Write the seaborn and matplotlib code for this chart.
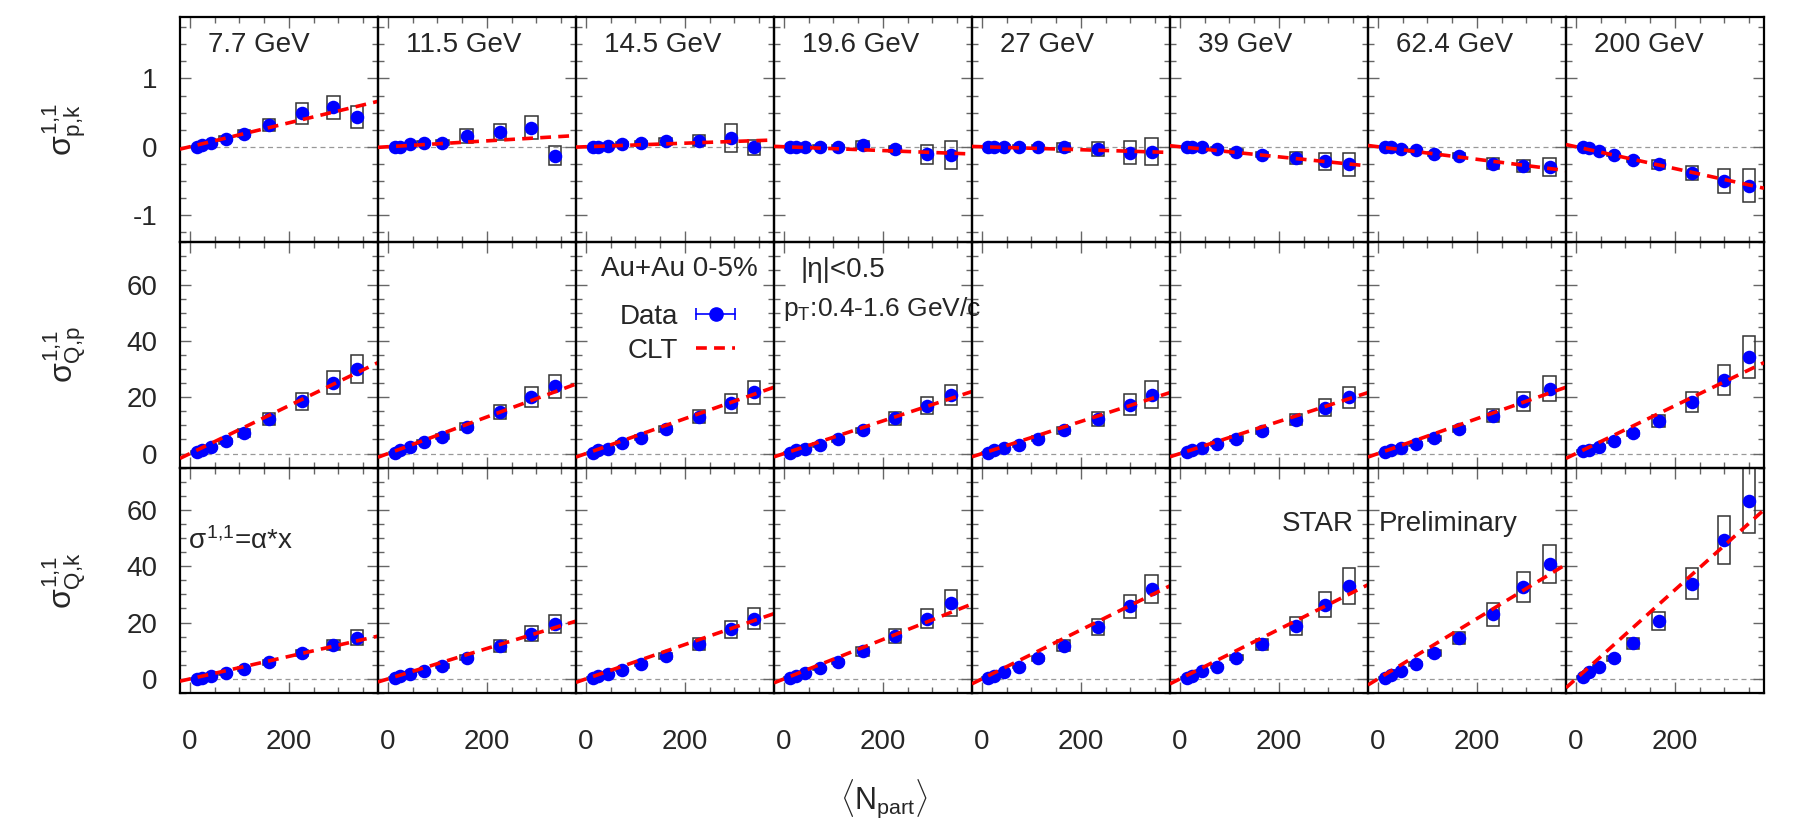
import numpy as np
import matplotlib
matplotlib.use('Agg')
import matplotlib.pyplot as plt
from matplotlib.ticker import MultipleLocator
from matplotlib.lines import Line2D
from matplotlib.legend_handler import HandlerLine2D, HandlerTuple
import seaborn as sns

# beam energies (columns)
energies = ['7.7 GeV', '11.5 GeV', '14.5 GeV', '19.6 GeV',
            '27 GeV', '39 GeV', '62.4 GeV', '200 GeV']

# <Npart> of the 9 centrality bins (70-80% ... 0-5%), per energy
npart = [
    [14, 24, 42, 72, 109, 160, 226, 290, 337],
    [14, 25, 44, 72, 110, 159, 226, 290, 338],
    [14, 25, 44, 73, 111, 161, 229, 293, 340],
    [13, 24, 43, 72, 109, 159, 225, 289, 338],
    [13, 25, 45, 75, 113, 165, 234, 299, 343],
    [14, 25, 45, 75, 114, 166, 234, 293, 342],
    [15, 26, 46, 76, 114, 164, 233, 294, 347],
    [14, 27, 47, 76, 115, 167, 234, 299, 350],
]

# row 1: sigma^{1,1}_{p,k}
sig_pk = [
    [0.0, 0.03, 0.05, 0.12, 0.19, 0.32, 0.49, 0.58, 0.44],
    [0.0, 0.0, 0.04, 0.05, 0.06, 0.16, 0.22, 0.28, -0.13],
    [0.0, 0.0, 0.015, 0.04, 0.05, 0.08, 0.09, 0.13, -0.01],
    [0.0, 0.0, -0.01, 0.0, -0.01, 0.025, -0.03, -0.11, -0.12],
    [0.0, 0.0, 0.0, 0.0, -0.01, -0.01, -0.03, -0.09, -0.07],
    [0.0, 0.0, -0.01, -0.03, -0.07, -0.115, -0.165, -0.215, -0.26],
    [0.0, 0.0, -0.03, -0.05, -0.10, -0.13, -0.25, -0.28, -0.30],
    [0.0, -0.025, -0.06, -0.12, -0.20, -0.26, -0.385, -0.50, -0.57],
]
sys_pk = [
    [0.01, 0.01, 0.02, 0.03, 0.05, 0.09, 0.15, 0.17, 0.16],
    [0.01, 0.01, 0.02, 0.03, 0.04, 0.10, 0.12, 0.17, 0.14],
    [0.01, 0.01, 0.02, 0.03, 0.04, 0.05, 0.085, 0.21, 0.115],
    [0.01, 0.01, 0.02, 0.02, 0.03, 0.06, 0.04, 0.14, 0.20],
    [0.01, 0.01, 0.02, 0.02, 0.03, 0.065, 0.10, 0.17, 0.20],
    [0.01, 0.01, 0.02, 0.02, 0.03, 0.04, 0.085, 0.12, 0.17],
    [0.01, 0.01, 0.02, 0.02, 0.03, 0.04, 0.08, 0.085, 0.13],
    [0.01, 0.01, 0.02, 0.02, 0.03, 0.06, 0.10, 0.18, 0.24],
]
alpha_pk = [0.00175, 0.00043, 0.00026, -0.00028, -0.00022, -0.00074, -0.00092, -0.0016]

# row 2: sigma^{1,1}_{Q,p}
sig_qp = [
    [0.5, 1.1, 2.2, 4.4, 7.3, 12.3, 18.5, 25.1, 30.0],
    [0.35, 1.3, 2.2, 4.0, 6.0, 9.6, 14.7, 20.2, 23.9],
    [0.35, 1.1, 1.7, 3.8, 5.6, 8.8, 13.1, 17.8, 21.7],
    [0.35, 1.1, 1.7, 3.2, 5.0, 8.2, 12.5, 17.0, 20.8],
    [0.35, 1.1, 2.0, 3.2, 5.2, 8.2, 12.3, 17.4, 20.9],
    [0.4, 1.1, 2.0, 3.3, 5.2, 7.9, 12.0, 16.3, 20.0],
    [0.4, 1.2, 2.1, 3.5, 5.5, 8.8, 13.5, 18.5, 23.0],
    [0.8, 1.3, 2.5, 4.4, 7.2, 11.5, 18.4, 26.2, 34.2],
]
sys_qp = [
    [0.3, 0.4, 0.6, 0.9, 1.3, 2.1, 3.1, 4.1, 5.0],
    [0.3, 0.4, 0.5, 0.7, 0.9, 1.2, 2.5, 3.5, 4.0],
    [0.3, 0.4, 0.5, 0.7, 0.9, 1.1, 2.4, 3.3, 4.0],
    [0.3, 0.4, 0.5, 0.7, 0.9, 1.0, 2.2, 3.0, 3.7],
    [0.3, 0.4, 0.5, 0.7, 0.9, 1.1, 2.4, 3.7, 4.7],
    [0.3, 0.4, 0.5, 0.7, 0.9, 1.1, 2.0, 3.0, 3.8],
    [0.3, 0.4, 0.5, 0.7, 0.9, 1.1, 2.2, 3.5, 4.5],
    [0.3, 0.4, 0.5, 0.7, 0.9, 2.2, 3.6, 5.3, 7.4],
]
alpha_qp = [0.085, 0.065, 0.062, 0.058, 0.057, 0.057, 0.062, 0.085]

# row 3: sigma^{1,1}_{Q,k}
sig_qk = [
    [0.1, 0.5, 1.1, 2.0, 3.4, 5.9, 9.1, 12.0, 14.7],
    [0.5, 1.2, 1.7, 2.8, 4.6, 7.5, 11.7, 16.1, 19.4],
    [0.5, 1.2, 1.7, 3.2, 5.2, 8.2, 12.5, 17.6, 21.4],
    [0.5, 1.1, 2.0, 3.8, 6.1, 9.9, 15.3, 21.4, 27.0],
    [0.5, 1.2, 2.4, 4.4, 7.3, 11.8, 18.3, 25.8, 32.0],
    [0.5, 1.2, 2.8, 4.3, 7.5, 12.3, 18.8, 26.4, 33.0],
    [0.5, 1.4, 2.9, 5.3, 9.1, 14.6, 22.9, 32.6, 40.9],
    [0.8, 2.4, 4.4, 7.3, 12.6, 20.6, 33.8, 49.4, 63.3],
]
sys_qk = [
    [0.2, 0.3, 0.4, 0.5, 0.7, 0.9, 1.0, 1.8, 2.6],
    [0.2, 0.3, 0.4, 0.5, 0.7, 0.9, 2.1, 2.6, 3.2],
    [0.2, 0.3, 0.4, 0.5, 0.7, 1.0, 2.1, 2.9, 3.7],
    [0.2, 0.3, 0.4, 0.5, 0.7, 1.6, 2.5, 3.4, 4.5],
    [0.2, 0.3, 0.4, 0.5, 0.8, 1.9, 2.8, 4.0, 5.0],
    [0.2, 0.3, 0.4, 0.6, 0.9, 1.9, 3.2, 4.5, 6.3],
    [0.2, 0.3, 0.4, 0.6, 1.0, 2.2, 4.1, 5.3, 6.8],
    [0.3, 0.4, 0.6, 0.8, 2.1, 3.3, 5.6, 8.5, 11.5],
]
alpha_qk = [0.040, 0.054, 0.061, 0.070, 0.087, 0.088, 0.107, 0.158]

row_labels = [r'$\sigma^{1{,}1}_{\mathrm{p{,}k}}$',
              r'$\sigma^{1{,}1}_{\mathrm{Q{,}p}}$',
              r'$\sigma^{1{,}1}_{\mathrm{Q{,}k}}$']

sns.set_theme(style='ticks')
plt.rcParams['font.family'] = ['Liberation Sans', 'DejaVu Sans']
plt.rcParams['mathtext.fontset'] = 'custom'
plt.rcParams['mathtext.rm'] = 'Liberation Sans'
plt.rcParams['mathtext.it'] = 'Liberation Sans'
plt.rcParams['mathtext.sf'] = 'Liberation Sans'
plt.rcParams['mathtext.bf'] = 'Liberation Sans:bold'
plt.rcParams['axes.unicode_minus'] = False

FS = 20
CLT_DASH = (0, (3, 2))

fig, axes = plt.subplots(3, 8, figsize=(18, 8.25), dpi=100, sharex=True, sharey='row')
fig.subplots_adjust(left=0.1, right=0.98, top=0.9794, bottom=0.16, wspace=0, hspace=0)

rows = [(sig_pk, sys_pk, alpha_pk), (sig_qp, sys_qp, alpha_qp), (sig_qk, sys_qk, alpha_qk)]
xline = np.array([-20.0, 380.0])

for r, (vals, syst, alphas) in enumerate(rows):
    for c in range(8):
        ax = axes[r, c]
        ax.set_facecolor('none')
        x = np.array(npart[c])
        y = np.array(vals[c])
        s = np.array(syst[c])
        ax.axhline(0, color='0.6', lw=0.9, ls=(0, (4, 3)), zorder=0)
        # systematic boxes
        ax.bar(x, 2 * s, bottom=y - s, width=25, fill=False,
               edgecolor='0.2', linewidth=1.1, zorder=1)
        sns.scatterplot(x=x, y=y, ax=ax, color='blue', s=95,
                        linewidth=0, zorder=2, legend=False)
        ax.plot(xline, alphas[c] * xline, color='red', lw=2.6, ls=CLT_DASH, zorder=3)

        ax.set_xlim(-20, 380)
        ax.xaxis.set_major_locator(MultipleLocator(200))
        ax.xaxis.set_minor_locator(MultipleLocator(50))
        if r == 0:
            ax.set_ylim(-1.4, 1.9)
            ax.yaxis.set_major_locator(MultipleLocator(1))
            ax.yaxis.set_minor_locator(MultipleLocator(0.25))
        else:
            ax.set_ylim(-5, 75)
            ax.yaxis.set_major_locator(MultipleLocator(20))
            ax.yaxis.set_minor_locator(MultipleLocator(5))
        ax.tick_params(which='both', direction='in', top=True, right=True,
                       color='0.4', width=1.0, labelsize=FS)
        ax.tick_params(which='major', length=8)
        ax.tick_params(which='minor', length=4)
        ax.tick_params(axis='y', pad=16)
        ax.tick_params(axis='x', pad=26)
        for sp in ax.spines.values():
            sp.set_color('black')
            sp.set_linewidth(1.6)
        if r == 0:
            ax.text(36, 1.49, energies[c], ha='left', va='center', fontsize=FS)

for r, lab in enumerate(row_labels):
    yc = (axes[r, 0].get_position().y0 + axes[r, 0].get_position().y1) / 2
    fig.text(0.036, yc, lab, rotation=90, ha='center', va='center', fontsize=23)

fig.text(0.491, 0.032, r'$\langle\mathrm{N_{part}}\rangle$', ha='center', va='center', fontsize=22)

# annotations
axes[2, 0].text(-4, 49, r'$\sigma^{1{,}1}$=α*x', ha='left', va='center', fontsize=FS)
axes[2, 5].text(352, 55, 'STAR', ha='right', va='center', fontsize=FS)
axes[2, 6].text(2, 55, 'Preliminary', ha='left', va='center', fontsize=FS)
axes[1, 3].text(119, 65, '|η|<0.5', ha='center', va='center', fontsize=FS)
axes[1, 3].text(-2, 51.4, r'p$_\mathrm{T}$:0.4-1.6 GeV/c', ha='left', va='center',
                fontsize=19, zorder=10)
axes[1, 2].text(188, 65.6, 'Au+Au 0-5%', ha='center', va='center', fontsize=FS)

# legend (gnuplot style: label on the left, sample on the right)
lax = axes[1, 2]
h_bar = Line2D([], [], color='blue', lw=1.2, marker='|', ms=9, mew=1.2)
h_dot = Line2D([], [], color='blue', ls='', marker='o', ms=9.5)
h_clt = Line2D([], [], color='red', lw=2.6, ls=CLT_DASH)
leg = lax.legend([(h_bar, h_dot), h_clt], ['Data', 'CLT'],
                 handler_map={h_bar: HandlerLine2D(numpoints=2, marker_pad=0),
                              h_dot: HandlerLine2D(numpoints=1),
                              tuple: HandlerTuple(ndivide=1, pad=0)},
                 markerfirst=False, frameon=False, loc='upper right',
                 bbox_to_anchor=(0.803, 0.728), fontsize=FS,
                 handlelength=1.4, handletextpad=0.65, labelspacing=0.3,
                 borderpad=0, borderaxespad=0)

fig.savefig('out.png', dpi=100)
